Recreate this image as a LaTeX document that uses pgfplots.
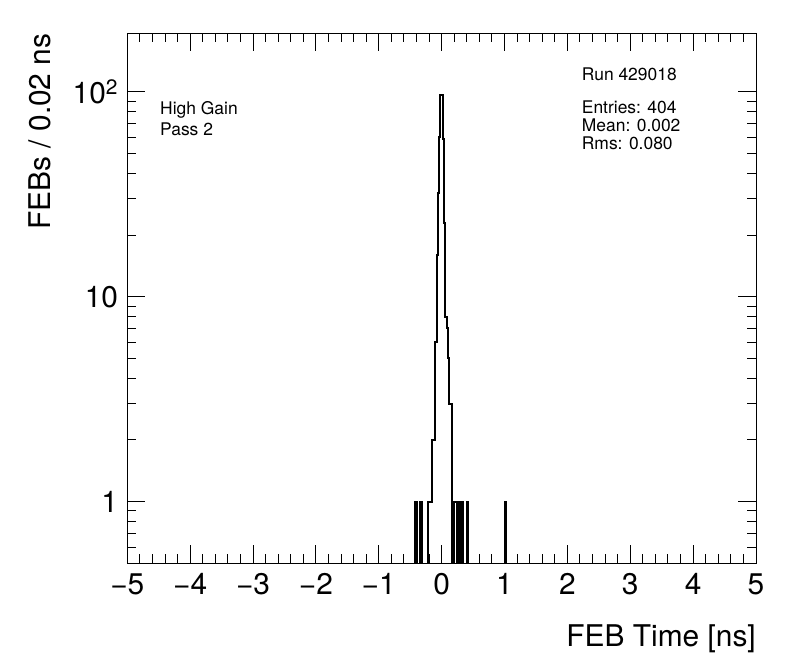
\documentclass[border=0pt]{standalone}
\usepackage{fontspec}
\setmainfont{TeX Gyre Heros}
\usepackage{pgfplots}
\pgfplotsset{compat=1.18}
\begin{document}
\begin{tikzpicture}
\path[use as bounding box] (0,0) rectangle (796bp,672bp);
\begin{axis}[
  at={(127.3bp,108.7bp)}, anchor=south west,
  scale only axis, width=628.7bp, height=530bp,
  xmin=-5, xmax=5, ymode=log, ymin=0.5, ymax=193,
  xtick={-5,-4,-3,-2,-1,0,1,2,3,4,5},
  xticklabels={−5,−4,−3,−2,−1,0,1,2,3,4,5},
  minor x tick num=4,
  ytick={1,10,100}, yticklabels={1,10,10\textsuperscript{2}},
  minor ytick={0.6,0.7,0.8,0.9,2,3,4,5,6,7,8,9,20,30,40,50,60,70,80,90},
  tick align=inside, major tick length=18bp, minor tick length=9bp,
  axis line style={line width=1bp},
  every tick/.append style={black, line width=1bp},
  tick label style={font=\fontsize{30}{36}\selectfont, inner sep=0pt},
  xticklabel style={anchor=base, yshift=-30.7bp},
  yticklabel style={anchor=east, xshift=-9bp},
  xlabel={FEB Time [ns]},
  xlabel style={at={(rel axis cs:1,-0.1579)}, anchor=base east, font=\fontsize{30}{36}\selectfont, inner sep=0pt},
  ylabel={FEBs / 0.02 ns},
  ylabel style={at={(rel axis cs:-0.1214,1)}, rotate=0, anchor=base east, font=\fontsize{30}{36}\selectfont, inner sep=0pt},
]
\addplot[const plot, line width=2bp, black, mark=none] coordinates {
(-5,0.001) (-0.42,1) (-0.40,0.001) (-0.34,1) (-0.32,0.001)
(-0.22,1) (-0.20,1) (-0.18,1) (-0.16,2) (-0.14,2) (-0.12,2)
(-0.10,6) (-0.08,16) (-0.06,32) (-0.04,60) (-0.02,97) (0.00,97)
(0.02,59) (0.04,23) (0.06,8) (0.08,7) (0.10,5) (0.12,3) (0.14,3)
(0.16,0.001) (0.20,1) (0.22,1) (0.24,0.001) (0.28,1) (0.30,0.001)
(0.32,1) (0.34,0.001) (0.40,1) (0.42,0.001) (1.00,1) (1.02,0.001) (5,0.001)
};
\end{axis}
\begin{scope}[every node/.style={anchor=base west, inner sep=0pt, font=\fontsize{17.5}{21}\selectfont}]
\node at (160bp,557bp) {High Gain};
\node at (160bp,536.3bp) {Pass 2};
\node at (581.7bp,591bp) {Run 429018};
\node at (581.7bp,558.7bp) {Entries: 404};
\node at (581.7bp,540.3bp) {Mean: 0.002};
\node at (581.7bp,522bp) {Rms: 0.080};
\end{scope}
\end{tikzpicture}
\end{document}
